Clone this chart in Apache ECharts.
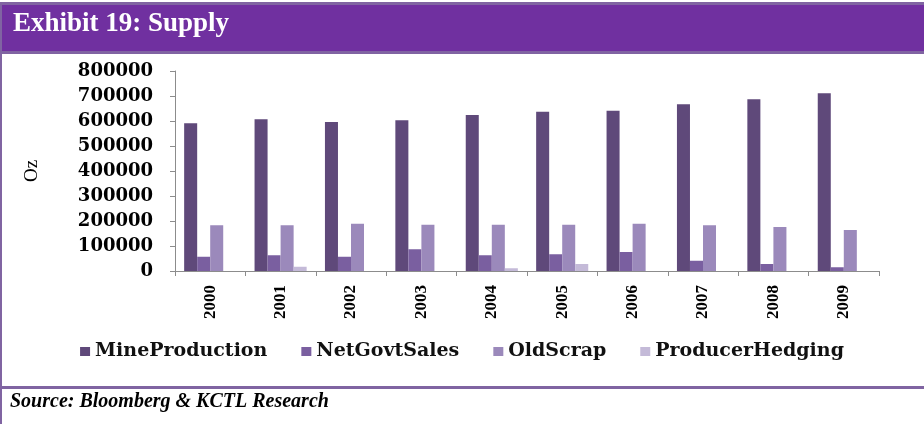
<!DOCTYPE html>
<html>
<head>
<meta charset="utf-8">
<script src="https://cdn.jsdelivr.net/npm/echarts@6/dist/echarts.min.js"></script>
<style>
  html, body { margin: 0; padding: 0; background: #ffffff; }
  #chart { width: 924px; height: 424px; }
</style>
</head>
<body>
<div id="chart"></div>
<script>
// Supply of gold by source, ounces
const years = ['2000', '2001', '2002', '2003', '2004', '2005', '2006', '2007', '2008', '2009'];
const mineProduction = [591000, 607000, 596000, 603000, 624000, 637000, 641000, 667000, 687000, 711000];
const netGovtSales = [57000, 63000, 57000, 87000, 63000, 67000, 76000, 41000, 28000, 15000];
const oldScrap = [183000, 183000, 189000, 185000, 185000, 185000, 189000, 183000, 176000, 164000];
const producerHedging = [0, 17000, 0, 0, 11000, 28000, 0, 0, 0, 0];
const yTicks = { min: 0, max: 800000, step: 100000 };

const seriesDefs = [
  { name: 'MineProduction', data: mineProduction, color: '#5f497a' },
  { name: 'NetGovtSales', data: netGovtSales, color: '#7a5fa0' },
  { name: 'OldScrap', data: oldScrap, color: '#9b89bb' },
  { name: 'ProducerHedging', data: producerHedging, color: '#c4bad8' }
];

const chart = echarts.init(document.getElementById('chart'), null, { renderer: 'canvas' });

const frameColor = '#8064a2';

chart.setOption({
  animation: false,
  backgroundColor: '#ffffff',
  graphic: [
    // header band
    { type: 'rect', shape: { x: 0, y: 2, width: 924, height: 52 }, style: { fill: frameColor }, z: 0 },
    { type: 'rect', shape: { x: 2, y: 5, width: 922, height: 46 }, style: { fill: '#7030a0' }, z: 1 },
    // left rule of the panel
    { type: 'rect', shape: { x: 0, y: 54, width: 2, height: 370 }, style: { fill: frameColor }, z: 1 },
    // divider above the source line
    { type: 'rect', shape: { x: 0, y: 386, width: 924, height: 3 }, style: { fill: frameColor }, z: 1 },
    {
      type: 'text', left: 13, top: 11, z: 2,
      style: {
        text: 'Exhibit 19: Supply', fill: '#ffffff',
        font: 'bold 27px "Liberation Serif", serif'
      }
    },
    {
      type: 'text', left: 10, top: 392, z: 2,
      style: {
        text: 'Source: Bloomberg & KCTL Research', fill: '#000000',
        font: 'italic bold 20px "Liberation Serif", serif'
      }
    }
  ],
  legend: {
    data: seriesDefs.map(s => s.name),
    left: 'center',
    top: 337,
    itemWidth: 10,
    itemHeight: 9,
    itemGap: 34,
    icon: 'rect',
    textStyle: {
      fontFamily: '"DejaVu Serif", serif',
      fontWeight: 'bold',
      fontSize: 19,
      color: '#111111'
    }
  },
  grid: { left: 175, right: 45, top: 71, bottom: 153, containLabel: false },
  xAxis: {
    type: 'category',
    data: years,
    boundaryGap: true,
    axisLine: { lineStyle: { color: '#8c8c8c', width: 1 } },
    axisTick: { show: true, alignWithLabel: false, length: 5, lineStyle: { color: '#8c8c8c' } },
    axisLabel: {
      rotate: 90,
      margin: 14,
      color: '#000000',
      fontFamily: '"Liberation Serif", serif',
      fontWeight: 'bold',
      fontSize: 17
    }
  },
  yAxis: {
    type: 'value',
    min: yTicks.min,
    max: yTicks.max,
    interval: yTicks.step,
    name: 'Oz',
    nameLocation: 'middle',
    nameGap: 133,
    nameRotate: 90,
    nameTextStyle: {
      fontFamily: '"Liberation Serif", serif',
      fontSize: 19,
      color: '#000000'
    },
    axisLine: { show: true, lineStyle: { color: '#8c8c8c', width: 1 } },
    axisTick: { show: true, length: 5, lineStyle: { color: '#8c8c8c' } },
    splitLine: { show: false },
    axisLabel: {
      margin: 22,
      color: '#000000',
      fontFamily: '"DejaVu Serif", serif',
      fontWeight: 'bold',
      fontSize: 18,
      formatter: v => String(v)
    }
  },
  series: seriesDefs.map(s => ({
    name: s.name,
    type: 'bar',
    data: s.data,
    barGap: '0%',
    barCategoryGap: '26%',
    itemStyle: { color: s.color },
    emphasis: { disabled: true }
  }))
});
</script>
</body>
</html>
